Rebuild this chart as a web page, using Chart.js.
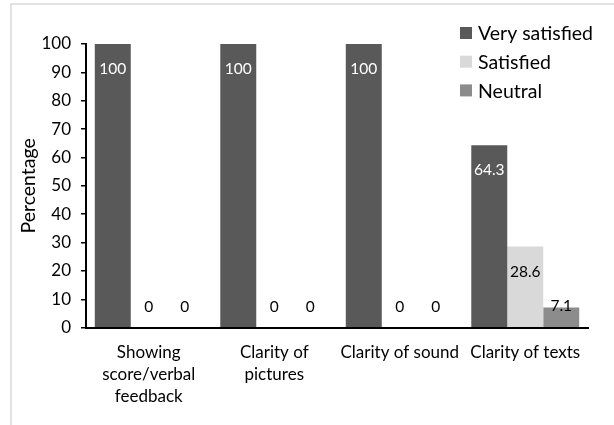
<!DOCTYPE html>
<html>
<head>
<meta charset="utf-8">
<script src="https://cdn.jsdelivr.net/npm/chart.js@4/dist/chart.umd.min.js"></script>
<style>
  html, body { margin: 0; padding: 0; background: #fff; }
  #wrap { width: 614px; height: 425px; position: relative; }
</style>
</head>
<body>
<div id="wrap"><canvas id="c" width="614" height="425"></canvas></div>
<script>
// Survey items (multi-line labels as arrays)
const categories = [
  ["Showing", "score/verbal", "feedback"],
  ["Clarity of", "pictures"],
  "Clarity of sound",
  "Clarity of texts"
];
const seriesNames = ["Very satisfied", "Satisfied", "Neutral"];
const verySatisfied = [100, 100, 100, 64.3];
const satisfied = [0, 0, 0, 28.6];
const neutral = [0, 0, 0, 7.1];
const yTicks = [0, 10, 20, 30, 40, 50, 60, 70, 80, 90, 100];
const yTitle = "Percentage";

const colors = ["#595959", "#d9d9d9", "#8c8c8c"];
const labelColors = ["#ffffff", "#000000", "#000000"];
const FONT = "Lato, 'Open Sans', sans-serif";

// Light frame along the top and left edges
const framePlugin = {
  id: 'frame',
  beforeDraw(chart) {
    const ctx = chart.ctx;
    ctx.save();
    ctx.strokeStyle = '#d9d9d9';
    ctx.lineWidth = 1.5;
    ctx.beginPath();
    ctx.moveTo(11, 425);
    ctx.lineTo(11, 4);
    ctx.lineTo(614, 4);
    ctx.stroke();
    ctx.restore();
  }
};

// Value labels inside the top of each bar
const valueLabels = {
  id: 'valueLabels',
  afterDatasetsDraw(chart) {
    const ctx = chart.ctx;
    ctx.save();
    ctx.font = "15.5px " + FONT;
    ctx.textAlign = 'center';
    ctx.textBaseline = 'middle';
    chart.data.datasets.forEach((ds, di) => {
      const meta = chart.getDatasetMeta(di);
      meta.data.forEach((el, i) => {
        const v = ds.data[i];
        let y = Math.min(el.y + 25, el.base - 21);
        ctx.fillStyle = v === 0 ? '#000000' : labelColors[di];
        ctx.fillText(String(v), el.x, y);
      });
    });
    ctx.restore();
  }
};

// Legend in the upper right corner
const cornerLegend = {
  id: 'cornerLegend',
  afterDraw(chart) {
    const ctx = chart.ctx;
    ctx.save();
    ctx.font = "19.5px " + FONT;
    ctx.textBaseline = 'middle';
    ctx.textAlign = 'left';
    chart.data.datasets.forEach((ds, di) => {
      const cy = 33 + di * 28.7;
      ctx.fillStyle = ds.backgroundColor;
      ctx.fillRect(460, cy - 6, 12, 12);
      ctx.fillStyle = '#000000';
      ctx.fillText(ds.label, 478, cy + 1);
    });
    ctx.restore();
  }
};

new Chart(document.getElementById('c'), {
  type: 'bar',
  data: {
    labels: categories,
    datasets: [
      { label: seriesNames[0], data: verySatisfied, backgroundColor: colors[0] },
      { label: seriesNames[1], data: satisfied, backgroundColor: colors[1] },
      { label: seriesNames[2], data: neutral, backgroundColor: colors[2] }
    ]
  },
  options: {
    responsive: false,
    animation: false,
    devicePixelRatio: 1,
    layout: { padding: { left: 12, right: 26, top: 44, bottom: 0 } },
    datasets: { bar: { categoryPercentage: 0.86, barPercentage: 1.0 } },
    plugins: {
      legend: { display: false },
      tooltip: { enabled: false }
    },
    scales: {
      x: {
        grid: { display: false, drawTicks: false },
        border: { display: true, color: '#000000', width: 2 },
        ticks: {
          color: '#000000',
          font: { family: FONT, size: 17, lineHeight: 1.3 },
          padding: 14,
          maxRotation: 0,
          autoSkip: false
        },
        afterFit(scale) { scale.height = 97.3; }
      },
      y: {
        min: 0,
        max: 100,
        afterBuildTicks(scale) { scale.ticks = yTicks.map(v => ({ value: v })); },
        grid: { drawOnChartArea: false, drawTicks: true, tickLength: 5, color: '#000000', lineWidth: 1.5 },
        border: { display: true, color: '#000000', width: 2 },
        ticks: {
          color: '#000000',
          font: { family: FONT, size: 17 },
          padding: 10
        },
        title: {
          display: true,
          text: yTitle,
          color: '#000000',
          font: { family: FONT, size: 19.5 },
          padding: { top: 5, bottom: 0 }
        },
        afterFit(scale) { scale.width = 74; }
      }
    }
  },
  plugins: [framePlugin, valueLabels, cornerLegend]
});
</script>
</body>
</html>
